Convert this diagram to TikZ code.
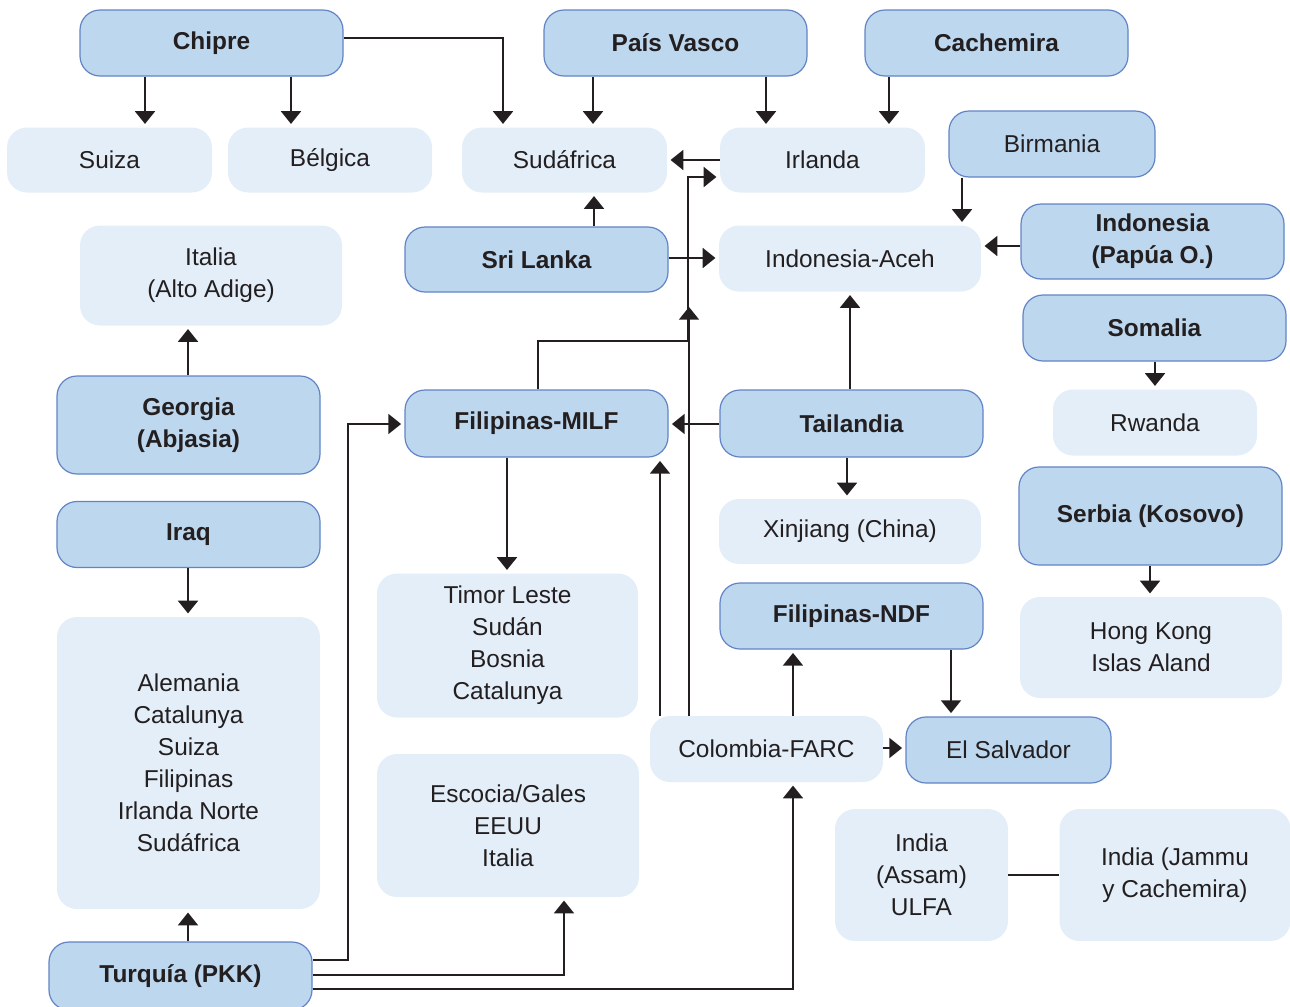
\documentclass[tikz,border=0pt]{standalone}
\usepackage{fontspec}
\setmainfont{Liberation Sans}
\usetikzlibrary{arrows.meta}
\definecolor{dkfill}{RGB}{189,215,238}
\definecolor{dkline}{RGB}{98,132,198}
\definecolor{ltfill}{RGB}{227,238,248}
\definecolor{ink}{RGB}{35,31,32}

\begin{document}
\begin{tikzpicture}[x=0.75pt,y=-0.75pt,
  box/.style 2 args={minimum width=#1*0.75pt,minimum height=#2*0.75pt,
    inner sep=0pt,align=center,rounded corners=15pt,text=ink,
    font=\fontsize{18.3}{24}\selectfont},
  dk/.style={fill=dkfill,draw=dkline,line width=0.9pt},
  lt/.style={fill=ltfill},
  bf/.style={font=\fontsize{18.3}{24}\selectfont\bfseries},
  arr/.style={draw=ink,line width=1.1pt,-{Triangle[width=15pt,length=9.5pt]},shorten >=2.5pt},
  ln/.style={draw=ink,line width=1.1pt}]
\useasboundingbox (0,0) rectangle (1290,1007);

% guide columns and rows for the connectors
\foreach \v in {145,188,291,348,503,507,538,564,593,594,660,688,689,766,793,847,850,889,951,962,1150,1155}
  \coordinate (X\v) at (\v,0);
\foreach \v in {38,160,177,246,258,307,341,424,748,875,960,975,989}
  \coordinate (Y\v) at (0,\v);

% top row
\node[box={263}{66},dk,bf] (chipre)    at (211.5,43)  {Chipre};
\node[box={263}{66},dk,bf] (vasco)     at (675.5,43)  {País Vasco};
\node[box={263}{66},dk,bf] (cachemira) at (996.5,43)  {Cachemira};

\node[box={205}{65},lt] (suiza)     at (109.5,160) {Suiza};
\node[box={204}{65},lt] (belgica)   at (330,160)   {Bélgica};
\node[box={205}{65},lt] (sudafrica) at (564.5,160) {Sudáfrica};
\node[box={205}{65},lt] (irlanda)   at (822.5,160) {Irlanda};
\node[box={206}{66},dk] (birmania)  at (1052,144)    {Birmania};

\node[box={262}{100},lt] (italia)   at (211,275.5)   {Italia\\(Alto Adige)};
\node[box={263}{65},dk,bf] (srilanka) at (536.5,259.5) {Sri Lanka};
\node[box={262}{66},lt] (aceh)      at (850,258.5)     {Indonesia-Aceh};
\node[box={263}{75},dk,bf] (papua)  at (1152.5,241.5) {Indonesia\\(Papúa O.)};
\node[box={263}{66},dk,bf] (somalia) at (1154.5,328) {Somalia};

\node[box={263}{98},dk,bf] (georgia)   at (188.5,425)   {Georgia\\(Abjasia)};
\node[box={263}{67},dk,bf] (milf)      at (536.5,423.5) {Filipinas-MILF};
\node[box={263}{67},dk,bf] (tailandia) at (851.5,423.5) {Tailandia};
\node[box={204}{66},lt] (rwanda)       at (1155,422.5)    {Rwanda};

\node[box={263}{66},dk,bf] (iraq)   at (188.5,534.5) {Iraq};
\node[box={262}{65},lt] (xinjiang)  at (850,531.5)   {Xinjiang (China)};
\node[box={263}{98},dk,bf] (serbia) at (1150.5,516)  {Serbia (Kosovo)};

\node[box={261}{144},lt] (timor)    at (507.5,645.5) {Timor Leste\\Sudán\\Bosnia\\Catalunya};
\node[box={263}{66},dk,bf] (ndf)    at (851.5,616)   {Filipinas-NDF};
\node[box={262}{101},lt] (hongkong) at (1151,647.5)  {Hong Kong\\Islas Aland};

\node[box={263}{292},lt] (alemania) at (188.5,763)   {Alemania\\Catalunya\\Suiza\\Filipinas\\Irlanda Norte\\Sudáfrica};
\node[box={233}{66},lt] (colombia)  at (766.5,749)   {Colombia-FARC};
\node[box={205}{66},dk] (salvador)  at (1008.5,750)  {El Salvador};
\node[box={262}{143},lt] (escocia)  at (508,825.5)   {Escocia/Gales\\EEUU\\Italia};
\node[box={173}{132},lt] (assam)    at (921.5,875)   {India\\(Assam)\\ULFA};
\node[box={231}{132},lt] (jammu)    at (1175,875)    {India (Jammu\\y Cachemira)};
\node[box={263}{68},dk,bf] (turquia) at (180.5,976)  {Turquía (PKK)};

% connectors
\draw[arr] (chipre.south -| X145) -- (suiza.north -| X145);
\draw[arr] (chipre.south -| X291) -- (belgica.north -| X291);
\draw[arr] (chipre.east |- Y38) -| (sudafrica.north -| X503);
\draw[arr] (vasco.south -| X593) -- (sudafrica.north -| X593);
\draw[arr] (vasco.south -| X766) -- (irlanda.north -| X766);
\draw[arr] (cachemira.south -| X889) -- (irlanda.north -| X889);
\draw[arr] (irlanda.west |- Y160) -- (sudafrica.east |- Y160);
\draw[arr] (srilanka.north -| X594) -- (sudafrica.south -| X594);
\draw[arr] (srilanka.east |- Y258) -- (aceh.west |- Y258);
\draw[arr] (birmania.south -| X962) -- (aceh.north -| X962);
\draw[arr] (papua.west |- Y246) -- (aceh.east |- Y246);
\draw[arr] (somalia.south -| X1155) -- (rwanda.north -| X1155);
\draw[arr] (georgia.north -| X188) -- (italia.south -| X188);
\draw[arr] (milf.north -| X538) |- (X688 |- Y341) |- (irlanda.west |- Y177);
\draw[arr,shorten >=0pt] (colombia.north -| X689) -- (X689 |- Y307);
\draw[arr] (milf.south -| X507) -- (timor.north -| X507);
\draw[arr] (tailandia.north -| X850) -- (aceh.south -| X850);
\draw[arr] (tailandia.west |- Y424) -- (milf.east |- Y424);
\draw[arr] (tailandia.south -| X847) -- (xinjiang.north -| X847);
\draw[arr] (serbia.south -| X1150) -- (hongkong.north -| X1150);
\draw[arr] (ndf.south -| X951) -- (salvador.north -| X951);
\draw[arr] (colombia.north -| X793) -- (ndf.south -| X793);
\draw[arr] (colombia.east |- Y748) -- (salvador.west |- Y748);
\draw[arr] (colombia.north -| X660) -- (milf.south -| X660);
\draw[arr] (iraq.south -| X188) -- (alemania.north -| X188);
\draw[arr] (turquia.north -| X188) -- (alemania.south -| X188);
\draw[arr] (turquia.east |- Y960) -| (X348 |- Y424) -- (milf.west |- Y424);
\draw[arr] (turquia.east |- Y975) -| (escocia.south -| X564);
\draw[arr] (turquia.east |- Y989) -| (colombia.south -| X793);
\draw[ln] (assam.east |- Y875) -- (jammu.west |- Y875);
\end{tikzpicture}
\end{document}
